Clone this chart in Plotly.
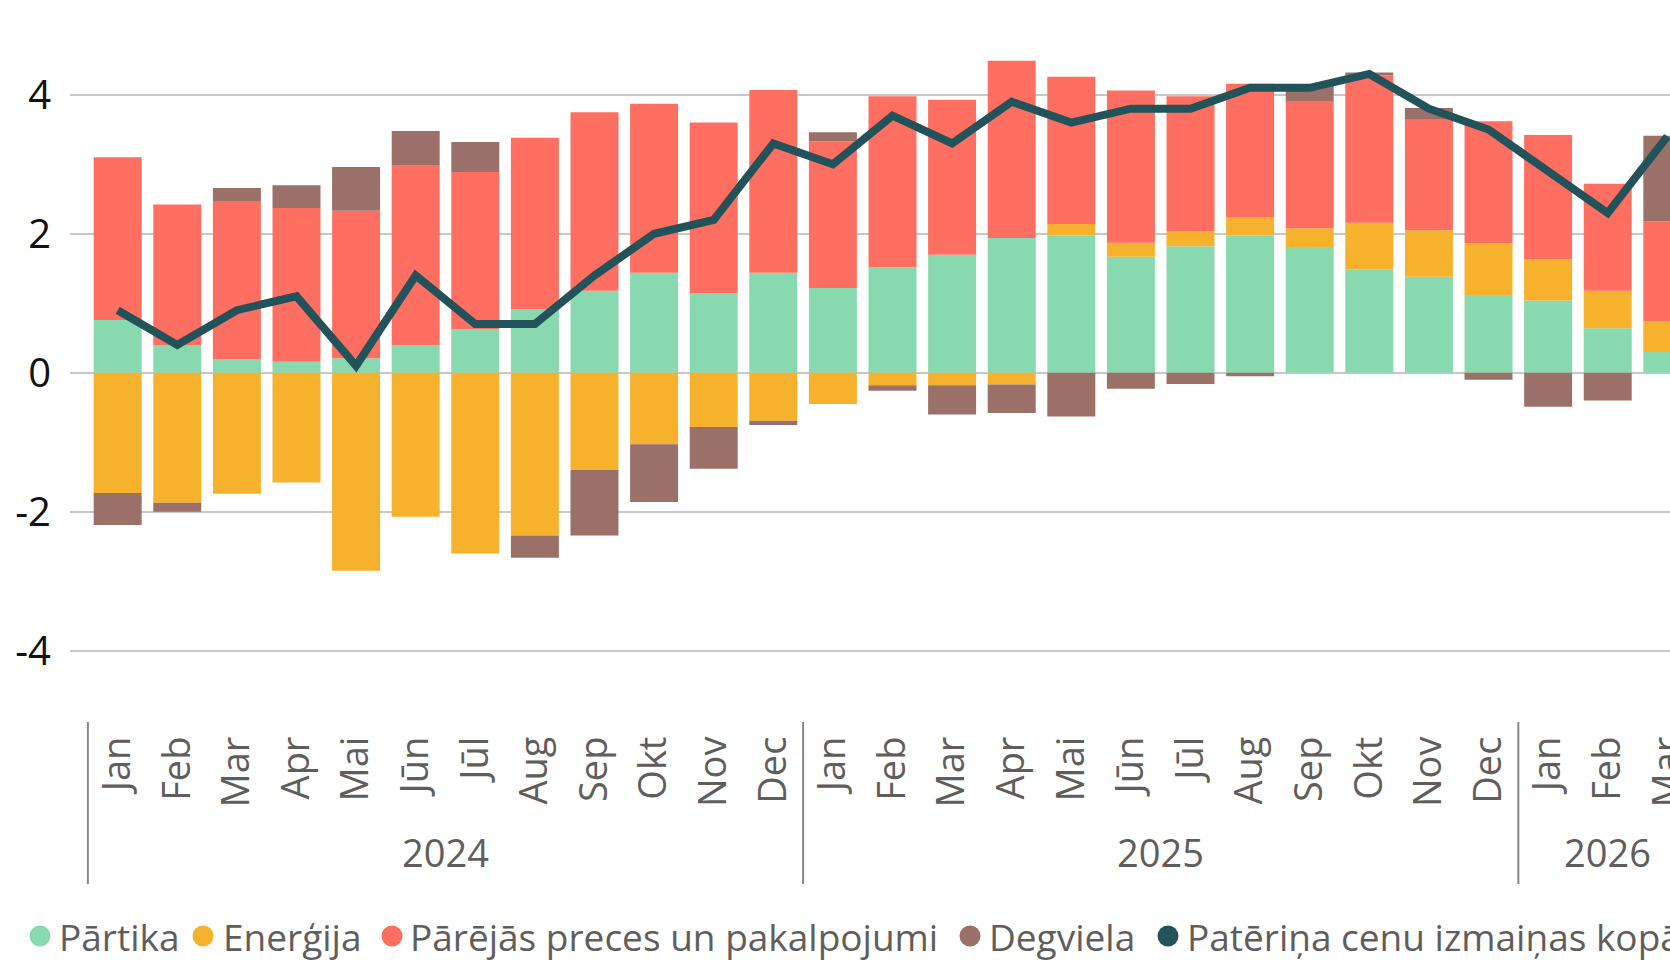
import plotly.graph_objects as go

months = ["Jan", "Feb", "Mar", "Apr", "Mai", "Jūn", "Jūl", "Aug", "Sep", "Okt", "Nov", "Dec",
          "Jan", "Feb", "Mar", "Apr", "Mai", "Jūn", "Jūl", "Aug", "Sep", "Okt", "Nov", "Dec",
          "Jan", "Feb", "Mar"]
years = ["2024"] * 12 + ["2025"] * 12 + ["2026"] * 3

partika = [0.76, 0.40, 0.19, 0.16, 0.21, 0.40, 0.63, 0.91, 1.18, 1.44, 1.14, 1.44,
           1.22, 1.52, 1.70, 1.94, 1.98, 1.67, 1.82, 1.98, 1.81, 1.49, 1.38, 1.12,
           1.04, 0.64, 0.30]
energija = [-1.73, -1.87, -1.74, -1.58, -2.85, -2.07, -2.60, -2.34, -1.40, -1.03, -0.78, -0.69,
            -0.45, -0.18, -0.18, -0.17, 0.16, 0.20, 0.22, 0.26, 0.27, 0.67, 0.67, 0.74,
            0.59, 0.54, 0.44]
parejas = [2.34, 2.02, 2.27, 2.21, 2.12, 2.59, 2.26, 2.47, 2.57, 2.43, 2.46, 2.63,
           2.11, 2.46, 2.23, 2.55, 2.12, 2.19, 1.94, 1.92, 1.82, 2.12, 1.59, 1.76,
           1.79, 1.54, 1.44]
degviela = [-0.46, -0.13, 0.20, 0.33, 0.63, 0.49, 0.43, -0.32, -0.94, -0.83, -0.60, -0.06,
            0.13, -0.08, -0.42, -0.41, -0.63, -0.23, -0.16, -0.05, 0.23, 0.04, 0.17, -0.10,
            -0.49, -0.40, 1.23]
kopa = [0.9, 0.4, 0.9, 1.1, 0.1, 1.4, 0.7, 0.7, 1.4, 2.0, 2.2, 3.3,
        3.0, 3.7, 3.3, 3.9, 3.6, 3.8, 3.8, 4.1, 4.1, 4.3, 3.8, 3.5,
        2.9, 2.3, 3.4]

y_tickvals = [-4, -2, 0, 2, 4]
y_ticktext = ["-4", "-2", "0", "2", "4"]

series_names = ["Pārtika", "Enerģija", "Pārējās preces un pakalpojumi", "Degviela",
                "Patēriņa cenu izmaiņas kopā"]
colors = ["#88D8B0", "#F6B22C", "#FE6F61", "#9B7068", "#23535A"]

x = list(range(len(months)))
FONT = "Open Sans"
GRAY = "#605E5C"

W, H = 1670, 962
L, R, T, B = 70, 0, 20, 240
PB = H - B  # plot bottom pixel
PW, PH = W - L - R, H - T - B


def px2paper_x(px):
    return (px - L) / PW


def py2paper_y(py):
    return (PB - py) / PH


fig = go.Figure()
for name, vals, col in zip(series_names[:4], [partika, energija, parejas, degviela], colors[:4]):
    fig.add_trace(go.Bar(x=x, y=vals, name=name, marker=dict(color=col, line=dict(width=0)),
                         showlegend=False))
fig.add_trace(go.Scatter(x=x, y=kopa, name=series_names[4], mode="lines",
                         line=dict(color=colors[4], width=8), showlegend=False))

shapes = []
annotations = []

# year dividers and labels
bounds = [0] + [i for i in range(1, len(years)) if years[i] != years[i - 1]]
for b in bounds:
    shapes.append(dict(type="line", xref="x", yref="paper", x0=b - 0.5, x1=b - 0.5,
                       y0=py2paper_y(884), y1=py2paper_y(722),
                       line=dict(color="#8A8886", width=2)))
ends = bounds[1:] + [len(years)]
for s, e in zip(bounds, ends):
    annotations.append(dict(xref="x", yref="paper", x=(s + e - 1) / 2, y=py2paper_y(852),
                            text=years[s], showarrow=False, xanchor="center", yanchor="middle",
                            font=dict(family=FONT, size=38, color=GRAY)))

# legend (drawn manually so it is cut off at the right edge like the reference)
legend_marker_px = [40, 203, 392, 970, 1168]
legend_text_px = [57, 221, 408, 987, 1185]
legend_y = 936
for name, col, mx, tx in zip(series_names, colors, legend_marker_px, legend_text_px):
    shapes.append(dict(type="circle", xref="paper", yref="paper",
                       xsizemode="pixel", ysizemode="pixel",
                       xanchor=px2paper_x(mx), yanchor=py2paper_y(legend_y),
                       x0=-10.5, x1=10.5, y0=-10.5, y1=10.5,
                       fillcolor=col, line=dict(width=0)))
    annotations.append(dict(xref="paper", yref="paper", x=px2paper_x(tx), y=py2paper_y(legend_y),
                            text=name, showarrow=False, xanchor="left", yanchor="middle",
                            font=dict(family=FONT, size=37, color=GRAY)))

fig.update_layout(
    width=W, height=H,
    margin=dict(l=L, r=R, t=T, b=B, pad=0, autoexpand=False),
    barmode="relative",
    bargap=0.195,
    plot_bgcolor="white",
    paper_bgcolor="white",
    shapes=shapes,
    annotations=annotations,
    showlegend=False,
    xaxis=dict(
        range=[-0.80, 26.045],
        tickmode="array", tickvals=x, ticktext=months,
        tickangle=-90,
        tickfont=dict(family=FONT, size=38, color=GRAY),
        ticks="", showgrid=False, zeroline=False, showline=False,
        ticklabelstandoff=6,
        ticklabeloverflow="allow",
        automargin=False,
    ),
    yaxis=dict(
        range=[-5.025, 5.076],
        tickmode="array", tickvals=y_tickvals, ticktext=y_ticktext,
        tickfont=dict(family=FONT, size=40, color="#111111"),
        showgrid=True, gridcolor="#C8C8C8", gridwidth=1.5,
        zeroline=False, showline=False, ticks="",
        ticklabelstandoff=18,
        automargin=False,
    ),
)

fig.write_html("out.html", config={"displayModeBar": False},
               post_script="document.body.style.margin='0';document.body.style.overflow='hidden';")
